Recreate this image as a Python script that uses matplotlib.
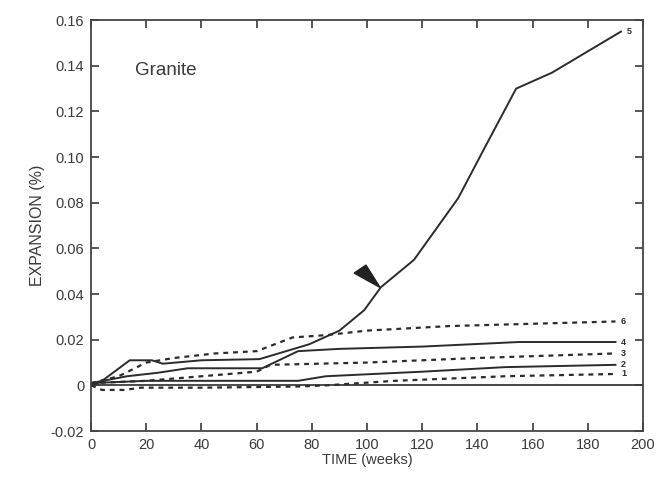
import numpy as np
import matplotlib
matplotlib.use('Agg')
import matplotlib.pyplot as plt
import matplotlib.patches as patches

plt.rcParams['font.family'] = ['Liberation Sans', 'DejaVu Sans']

# データ (週, 膨張率 %)
T1 = [0, 4, 12, 18, 40, 75, 85, 110, 150, 190]
E1 = [0.0, -0.002, -0.002, -0.001, -0.001, -0.0005, 0.0, 0.002, 0.004, 0.005]
T2 = [0, 20, 60, 75, 85, 120, 150, 190]
E2 = [0.001, 0.002, 0.002, 0.002, 0.004, 0.006, 0.008, 0.009]
T3 = [0, 20, 40, 60, 65, 100, 140, 190]
E3 = [0.001, 0.002, 0.004, 0.006, 0.009, 0.010, 0.012, 0.014]
T4 = [0, 13, 24, 35, 62, 75, 90, 120, 155, 190]
E4 = [0.001, 0.004, 0.0055, 0.0075, 0.0075, 0.015, 0.016, 0.017, 0.019, 0.019]
T5 = [0, 4, 14, 22, 26, 40, 61, 79, 90, 99, 105, 117, 133, 143, 154, 167, 192]
E5 = [0.0, 0.002, 0.011, 0.011, 0.0095, 0.011, 0.0115, 0.018, 0.024, 0.033,
      0.043, 0.055, 0.082, 0.105, 0.130, 0.137, 0.155]
T6 = [0, 10, 20, 30, 45, 60, 73, 85, 100, 130, 160, 190]
E6 = [0.001, 0.004, 0.010, 0.012, 0.014, 0.015, 0.021, 0.022, 0.024, 0.026, 0.027, 0.028]

SERIES = [('1', T1, E1, '--'), ('2', T2, E2, '-'), ('3', T3, E3, '--'),
          ('4', T4, E4, '-'), ('5', T5, E5, '-'), ('6', T6, E6, '--')]

XTICKS = list(range(0, 201, 20))
YTICKS = [-0.02, 0, 0.02, 0.04, 0.06, 0.08, 0.10, 0.12, 0.14, 0.16]
YTICKLABELS = ['-0.02', '0', '0.02', '0.04', '0.06', '0.08', '0.10', '0.12', '0.14', '0.16']

# 矢印 (三角形)
ARROW = np.array([[95.3, 0.0492], [99.6, 0.0527], [104.7, 0.0429]])

LINE_COLOR = '#2b2b2b'
TEXT_COLOR = '#3a3a3a'


def main():
    fig = plt.figure(figsize=(6.65, 4.8), dpi=100)
    ax = fig.add_axes([0.137, 0.102, 0.83, 0.856])

    ax.axhline(0, color=LINE_COLOR, lw=1.2, zorder=1)
    for name, t, e, ls in SERIES:
        if ls == '--':
            ax.plot(t, e, color=LINE_COLOR, lw=1.6, linestyle=(0, (2.2, 2.2)))
        else:
            ax.plot(t, e, color=LINE_COLOR, lw=1.4)
        ax.text(t[-1] + 2, e[-1], name, fontsize=6.5, fontweight='bold',
                ha='left', va='center', color=LINE_COLOR)

    ax.add_patch(patches.Polygon(ARROW, closed=True, facecolor='#222222',
                                 edgecolor='#222222'))

    ax.text(16, 0.138, 'Granite', fontsize=13.5, color=TEXT_COLOR, va='center')

    ax.set_xlim(0, 200)
    ax.set_ylim(-0.02, 0.16)
    ax.set_xticks(XTICKS)
    ax.set_yticks(YTICKS)
    ax.set_yticklabels(YTICKLABELS)
    ax.tick_params(direction='in', top=True, right=True, length=6, width=1.2,
                   labelsize=10.5, colors=TEXT_COLOR, pad=5)
    for s in ax.spines.values():
        s.set_linewidth(1.3)
        s.set_color('#444444')
    ax.set_xlabel('TIME (weeks)', fontsize=10.5, color=TEXT_COLOR, labelpad=1)
    ax.set_ylabel('EXPANSION (%)', fontsize=11.5, color=TEXT_COLOR, labelpad=4)

    fig.savefig('out.png', dpi=100)


if __name__ == '__main__':
    main()
